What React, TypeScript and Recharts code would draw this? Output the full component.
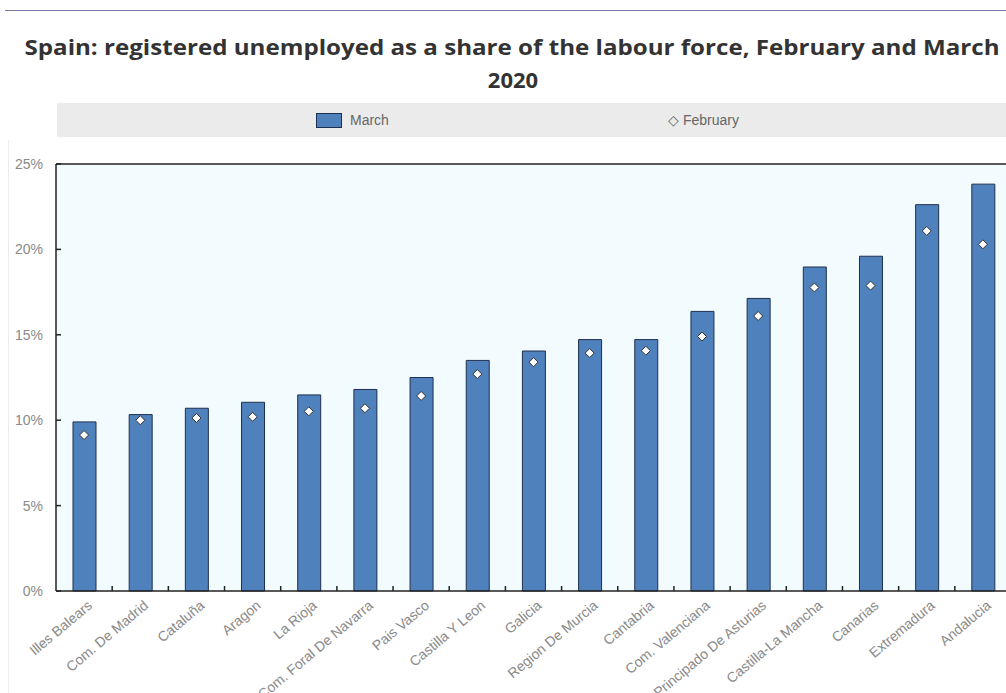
import React from "react";
import { ComposedChart, Bar, Line, XAxis, YAxis, CartesianGrid, ReferenceLine } from "recharts";

const regions = [
  "Illes Balears", "Com. De Madrid", "Cataluña", "Aragon", "La Rioja",
  "Com. Foral De Navarra", "Pais Vasco", "Castilla Y Leon", "Galicia",
  "Region De Murcia", "Cantabria", "Com. Valenciana", "Principado De Asturias",
  "Castilla-La Mancha", "Canarias", "Extremadura", "Andalucia",
];
const march = [9.9, 10.33, 10.7, 11.05, 11.48, 11.8, 12.5, 13.5, 14.05, 14.72, 14.72, 16.37, 17.13, 18.97, 19.6, 22.62, 23.82];
const february = [9.13, 10.0, 10.13, 10.2, 10.52, 10.7, 11.42, 12.7, 13.4, 13.93, 14.07, 14.9, 16.1, 17.77, 17.88, 21.08, 20.3];
const yTicks = [0, 5, 10, 15, 20, 25];
const titleLine1 = "Spain: registered unemployed as a share of the labour force, February and March";
const titleLine2 = "2020";
const legendLabels = ["March", "February"];

const data = regions.map((r, i) => ({ region: r, march: march[i], february: february[i] }));

const FONT = "'Liberation Sans', Arial, sans-serif";
const GRAY = "#8a8a8a";

const YTick = (props: any) => {
  const { x, y, payload } = props;
  return (
    <g>
      <line x1={x + 13} x2={x + 18} y1={y} y2={y} stroke="#222" strokeWidth={1.5} />
      <text x={x} y={y} dy={5} textAnchor="end" fill={GRAY} fontSize={14} fontFamily={FONT}>
        {`${payload.value}%`}
      </text>
    </g>
  );
};

const XTick = (props: any) => {
  const { x, y, payload } = props;
  const half = payload && payload.offset ? payload.offset : 28.1;
  const tx = x + 9;
  const ty = y + 16;
  return (
    <g>
      <line x1={x + half} x2={x + half} y1={y} y2={y - 5} stroke="#222" strokeWidth={1.5} />
      <text x={tx} y={ty} textAnchor="end" fill={GRAY} fontSize={14} fontFamily={FONT}
        transform={`rotate(-40, ${tx}, ${ty})`}>
        {payload.value}
      </text>
    </g>
  );
};

const Diamond = (props: any) => {
  const { cx, cy } = props;
  if (cx == null || cy == null) return null;
  const s = 4.5;
  return (
    <path d={`M${cx},${cy - s}L${cx + s},${cy}L${cx},${cy + s}L${cx - s},${cy}Z`}
      fill="#fff" stroke="#333" strokeWidth={1} />
  );
};

const LegendBand = () => (
  <div style={{ position: "absolute", left: 57, top: 103, width: 960, height: 34, background: "#ebebeb", fontFamily: FONT, fontSize: 14, color: "#666" }}>
    <div style={{ position: "absolute", left: 259, top: 10, width: 24, height: 13, background: "#4f81bd", border: "1px solid #1f2f4f" }} />
    <div style={{ position: "absolute", left: 293, top: 9 }}>{legendLabels[0]}</div>
    <div style={{ position: "absolute", left: 611, top: 9 }}>{"◇ " + legendLabels[1]}</div>
  </div>
);

export default function App() {
  return (
    <div style={{ position: "absolute", left: 0, top: 0, width: 1006, height: 693, overflow: "hidden", background: "#fff" }}>
      <div style={{ position: "absolute", left: 5, top: 10, width: 1001, height: 1, background: "#7a7aa8" }} />
      <div style={{ position: "absolute", left: 8, top: 140, width: 1, height: 553, background: "#ececec" }} />
      <svg style={{ position: "absolute", left: 0, top: 0 }} width={1006} height={100}>
        <text x={512} y={55} textAnchor="middle" fontFamily="'Open Sans', sans-serif" fontWeight={700}
          fontSize={22} fill="#333" textLength={975} lengthAdjust="spacingAndGlyphs">
          {titleLine1}
        </text>
        <text x={513} y={88} textAnchor="middle" fontFamily="'Open Sans', sans-serif" fontWeight={700}
          fontSize={22} fill="#333">
          {titleLine2}
        </text>
      </svg>
      <LegendBand />
      <div style={{ position: "absolute", left: 0, top: 0 }}>
        <ComposedChart width={1030} height={693} data={data}
          margin={{ top: 164, right: 19, bottom: 0, left: 6 }}>
          <CartesianGrid horizontal={false} vertical={false} fill="#f2fbfd" />
          <XAxis dataKey="region" interval={0} height={102} tickSize={0} tickMargin={0}
            axisLine={{ stroke: "#222", strokeWidth: 1.5 }} tickLine={false} tick={<XTick />} />
          <YAxis domain={[0, 25]} ticks={yTicks} width={50} tickSize={0} tickMargin={13}
            axisLine={{ stroke: "#222", strokeWidth: 1.5 }} tickLine={false} tick={<YTick />} />
          <ReferenceLine y={25} stroke="#222" strokeWidth={1.5} />
          <Bar dataKey="march" name="March" barSize={23} fill="#4f81bd" stroke="#1f2f4f" strokeWidth={1}
            isAnimationActive={false} />
          <Line dataKey="february" name="February" stroke="none" dot={<Diamond />} activeDot={false}
            isAnimationActive={false} />
        </ComposedChart>
      </div>
    </div>
  );
}
